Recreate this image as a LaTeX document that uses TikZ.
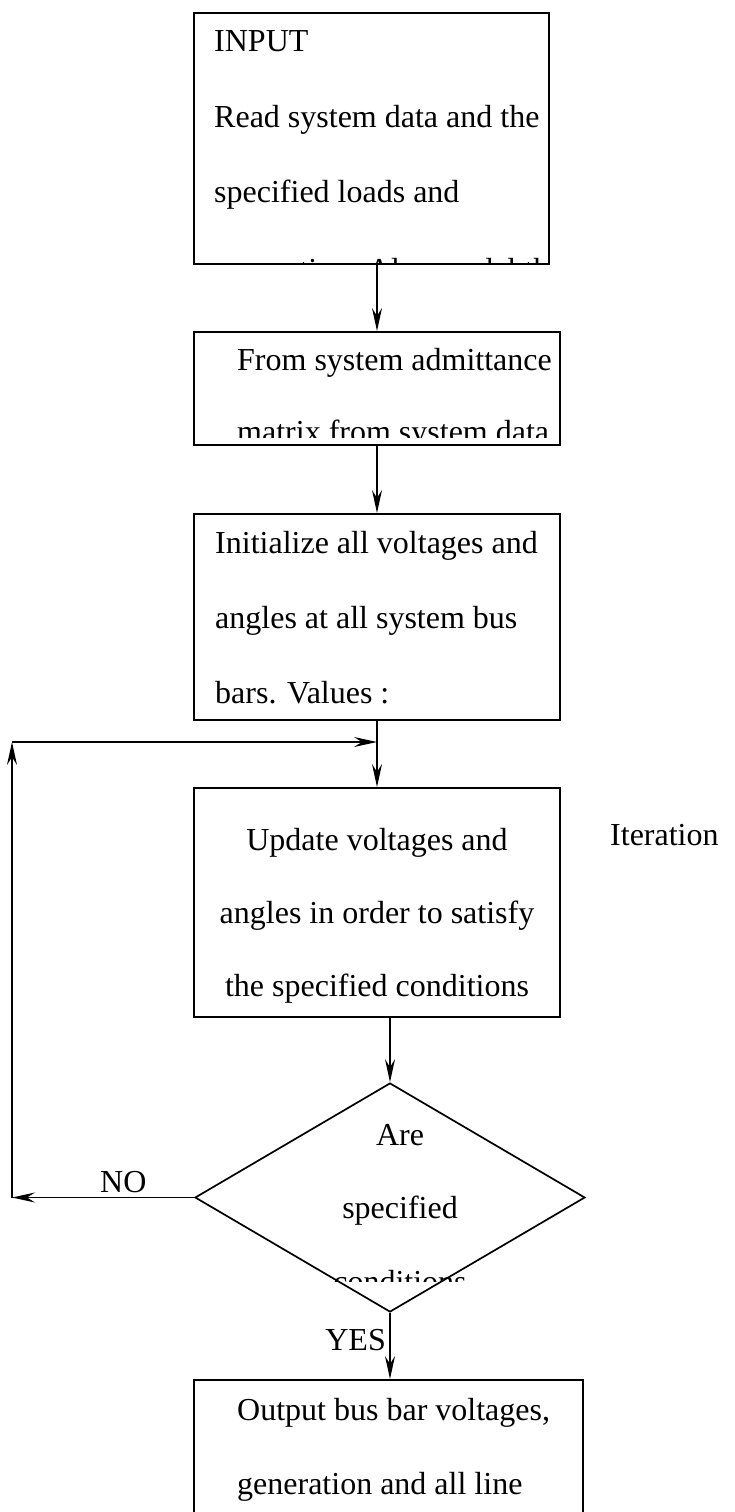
\documentclass[tikz,border=0pt]{standalone}
\usepackage{fontspec}
\setmainfont{Liberation Serif}
\usetikzlibrary{shapes.geometric,arrows.meta}
\begin{document}
\begin{tikzpicture}[x=1pt,y=-1pt,
  box/.style={draw, line width=1.7pt, inner sep=0pt, anchor=north west},
  txt/.style={inner sep=0pt, font=\fontsize{32}{38}\selectfont},
  arr/.style={line width=1.7pt, -{Stealth[length=23pt,width=10pt,inset=8pt]}}]
\useasboundingbox (0,0) rectangle (735,1512);
\fill[white] (0,0) rectangle (735,1512);
% boxes
\node[box, minimum width=355pt, minimum height=251pt] (b1) at (193,12) {};
\node[box, minimum width=366pt, minimum height=113pt] (b2) at (193,331) {};
\node[box, minimum width=366pt, minimum height=206pt] (b3) at (193,513) {};
\node[box, minimum width=366pt, minimum height=229pt] (b4) at (193,787) {};
\node[draw, line width=1.7pt, shape=diamond, inner sep=0pt, minimum width=390pt, minimum height=229pt] (d) at (390,1197.5) {};
\node[box, minimum width=389pt, minimum height=160pt] (b6) at (193,1379) {};
% box texts
\node[txt, anchor=base west] (t11) at (214,52) {INPUT};
\node[txt, anchor=base west] (t12) at (214,127) {Read system data and the};
\node[txt, anchor=base west] (t13) at (214,202) {specified loads and};
\begin{scope}
\clip (193,12) rectangle (548,263);
\node[txt, anchor=base west] (t14) at (214,280) {generation. Also model the};
\end{scope}
\node[txt, anchor=base west] (t21) at (237,370) {From system admittance};
\begin{scope}
\clip (193,331) rectangle (559,437);
\node[txt, anchor=base west] (t22) at (237,442) {matrix from system data};
\end{scope}
\node[txt, anchor=base west] (t31) at (215,553) {Initialize all voltages and};
\node[txt, anchor=base west] (t32) at (215,628) {angles at all system bus};
\node[txt, anchor=base west] (t33) at (215,703) {bars. Values :};
\node[txt, anchor=base] (t41) at (377,850) {Update voltages and};
\node[txt, anchor=base] (t42) at (377,923) {angles in order to satisfy};
\node[txt, anchor=base] (t43) at (377,996) {the specified conditions};
\node[txt, anchor=base] (t51) at (400,1145) {Are};
\node[txt, anchor=base] (t52) at (400,1218) {specified};
\begin{scope}
\clip (150,1100) rectangle (650,1281);
\node[txt, anchor=base] (t53) at (400,1292) {conditions};
\end{scope}
\node[txt, anchor=base west] (t61) at (237,1420) {Output bus bar voltages,};
\node[txt, anchor=base west] (t62) at (237,1494) {generation and all line};
% labels
\node[txt, anchor=base west] (it) at (610,845) {Iteration};
\node[txt, anchor=base west] (no) at (100,1192) {NO};
\node[txt, anchor=base east] (yes) at (386,1350) {YES};
% connectors
\coordinate (ax) at (377,0);
\coordinate (lb) at (12,1197.5);
\coordinate (lt) at (12,742);
\coordinate (lm) at (377,742);
\draw[arr] (b1.south -| ax) -- (b2.north -| ax);
\draw[arr] (b2.south -| ax) -- (b3.north -| ax);
\draw[arr] (b3.south -| ax) -- (b4.north -| ax);
\draw[arr] (b4.south -| d.north) -- (d.north);
\draw[arr] (d.south) -- (b6.north -| d.south);
\draw[arr] (d.west) -- (lb);
\draw[arr] (lb) -- (lt);
\draw[arr] (lt) -- (lm);
\end{tikzpicture}
\end{document}
